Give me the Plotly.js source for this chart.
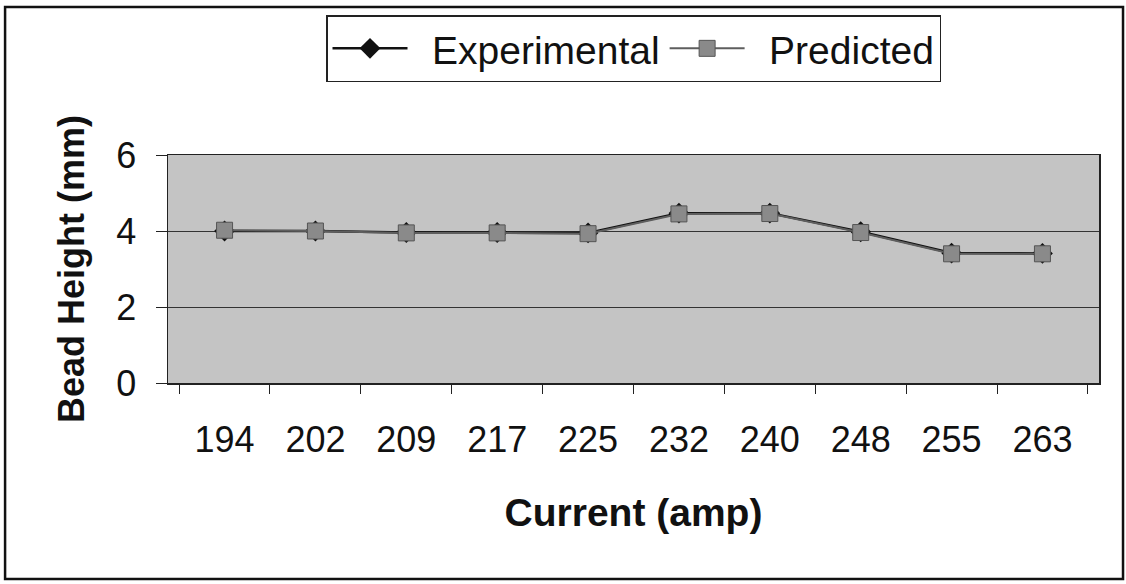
<!DOCTYPE html>
<html>
<head>
<meta charset="utf-8">
<script src="https://cdn.plot.ly/plotly-3.0.1.min.js"></script>
<style>
  html, body { margin: 0; padding: 0; background: #ffffff; }
  #chart { width: 1126px; height: 584px; }
</style>
</head>
<body>
<div id="chart"></div>
<script>
// Welding current settings (amp) shown as categories
const currents = ['194', '202', '209', '217', '225', '232', '240', '248', '255', '263'];
// Bead height (mm)
const experimental = [4.00, 4.00, 3.96, 3.96, 3.95, 4.47, 4.47, 3.98, 3.42, 3.41];
const predicted    = [4.02, 4.00, 3.95, 3.95, 3.93, 4.45, 4.46, 3.96, 3.40, 3.40];
const yTicks = [0, 2, 4, 6];

const FONT = 'Liberation Sans, Arial, sans-serif';
// en space keeps legend text clear of the symbol line
const GAP = '\u2002';

const traces = [
  {
    x: currents, y: experimental, name: GAP + 'Experimental',
    type: 'scatter', mode: 'lines+markers',
    line: { color: '#111111', width: 2.5 },
    marker: { symbol: 'diamond', size: 16, color: '#111111' }
  },
  {
    x: currents, y: predicted, name: GAP + 'Predicted',
    type: 'scatter', mode: 'lines+markers',
    line: { color: '#5e5e5e', width: 2 },
    marker: { symbol: 'square', size: 16, color: '#8a8a8a',
              line: { color: '#555555', width: 1 } }
  }
];

const layout = {
  width: 1126, height: 584,
  margin: { l: 168, r: 27, t: 155, b: 201 },
  paper_bgcolor: '#ffffff',
  plot_bgcolor: '#c4c4c4',
  font: { family: FONT, color: '#111111' },
  showlegend: true,
  legend: {
    orientation: 'h', x: 0.5, xanchor: 'center', y: 1.614, yanchor: 'top',
    bgcolor: '#ffffff', bordercolor: '#222222', borderwidth: 1.5,
    font: { family: FONT, size: 39, color: '#111111' },
    itemwidth: 75, itemclick: false, traceorder: 'normal'
  },
  xaxis: {
    type: 'category', tickvals: currents, ticktext: currents,
    tickson: 'boundaries', ticks: 'outside', ticklen: 9, tickcolor: '#222222',
    ticklabelstandoff: 24,
    showline: true, linecolor: '#222222', linewidth: 1.5, mirror: true,
    showgrid: false, zeroline: false,
    tickfont: { family: FONT, size: 36, color: '#111111' },
    title: { text: 'Current (amp)', standoff: 40,
             font: { family: FONT, size: 39, color: '#111111', weight: 'bold' } }
  },
  yaxis: {
    range: [0, 6], tickvals: yTicks, ticktext: yTicks.map(String),
    ticks: 'outside', ticklen: 11, tickcolor: '#222222',
    ticklabelstandoff: 12,
    showline: true, linecolor: '#222222', linewidth: 1.5, mirror: true,
    showgrid: true, gridcolor: '#333333', gridwidth: 1, zeroline: false,
    tickfont: { family: FONT, size: 36, color: '#111111' },
    title: { text: 'Bead Height (mm)', standoff: 20,
             font: { family: FONT, size: 36, color: '#111111', weight: 'bold' } }
  },
  shapes: [
    { type: 'rect', xref: 'paper', yref: 'paper', layer: 'above',
      x0: -0.175, x1: 1.0258, y0: -0.8596, y1: 1.649,
      line: { color: '#111111', width: 2.5 }, fillcolor: 'rgba(0,0,0,0)' }
  ]
};

Plotly.newPlot('chart', traces, layout, { staticPlot: true, displayModeBar: false });
</script>
</body>
</html>
